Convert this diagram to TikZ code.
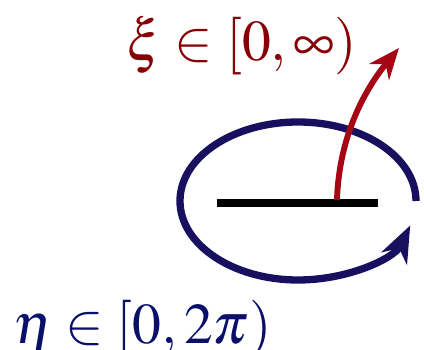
\documentclass[tikz,border=0pt]{standalone}
\usepackage{mathptmx}
\usepackage{tikz}
\usetikzlibrary{arrows.meta, positioning, calc}
\definecolor{rossoscuro}{RGB}{135,0,5}
\definecolor{rossofreccia}{RGB}{165,5,20}
\definecolor{bluscuro}{RGB}{25,15,95}
\definecolor{blutesto}{RGB}{10,15,105}

\begin{document}
\begin{tikzpicture}[
  x=0.025cm, y=0.025cm,
  etichetta/.style={inner sep=0pt, font=\fontsize{41}{48}\selectfont},
  ramo/.style={draw=black, line width=5.6pt},
  orbita/.style={draw=bluscuro, line width=5.2pt,
                 -{Stealth[length=26pt,width=20pt,inset=8pt]}},
  freccia/.style={draw=rossofreccia, line width=4.2pt,
                  -{Stealth[length=22pt,width=18pt,inset=7pt]}}
]
\useasboundingbox (0,0) rectangle (424,350);

% ---- segmento centrale ----------------------------------------------
\coordinate (sx) at (217,147);
\coordinate (dx) at (378,147);
\draw[ramo] (sx) -- (dx);

% ---- ellisse con freccia (coordinata eta) ---------------------------
\coordinate (centro) at (298,149);
\draw[orbita] ($(centro)+(118,0)$)
  arc[start angle=0, end angle=342, x radius=118, y radius=79];

% ---- freccia rossa (coordinata xi) ----------------------------------
\coordinate (base) at (337,150);
\coordinate (punta) at (399,302);
\draw[freccia] (base) .. controls (339,215) and (366,262) .. (punta);

% ---- etichette ------------------------------------------------------
\node[etichetta, text=rossoscuro, anchor=base west] (xi) at (126,289)
  {$\xi\in[0,\infty)$};
\node[etichetta, text=blutesto, anchor=base west] (eta) at (13,6)
  {$\eta\in[0,2\pi)$};

\end{tikzpicture}
\end{document}
